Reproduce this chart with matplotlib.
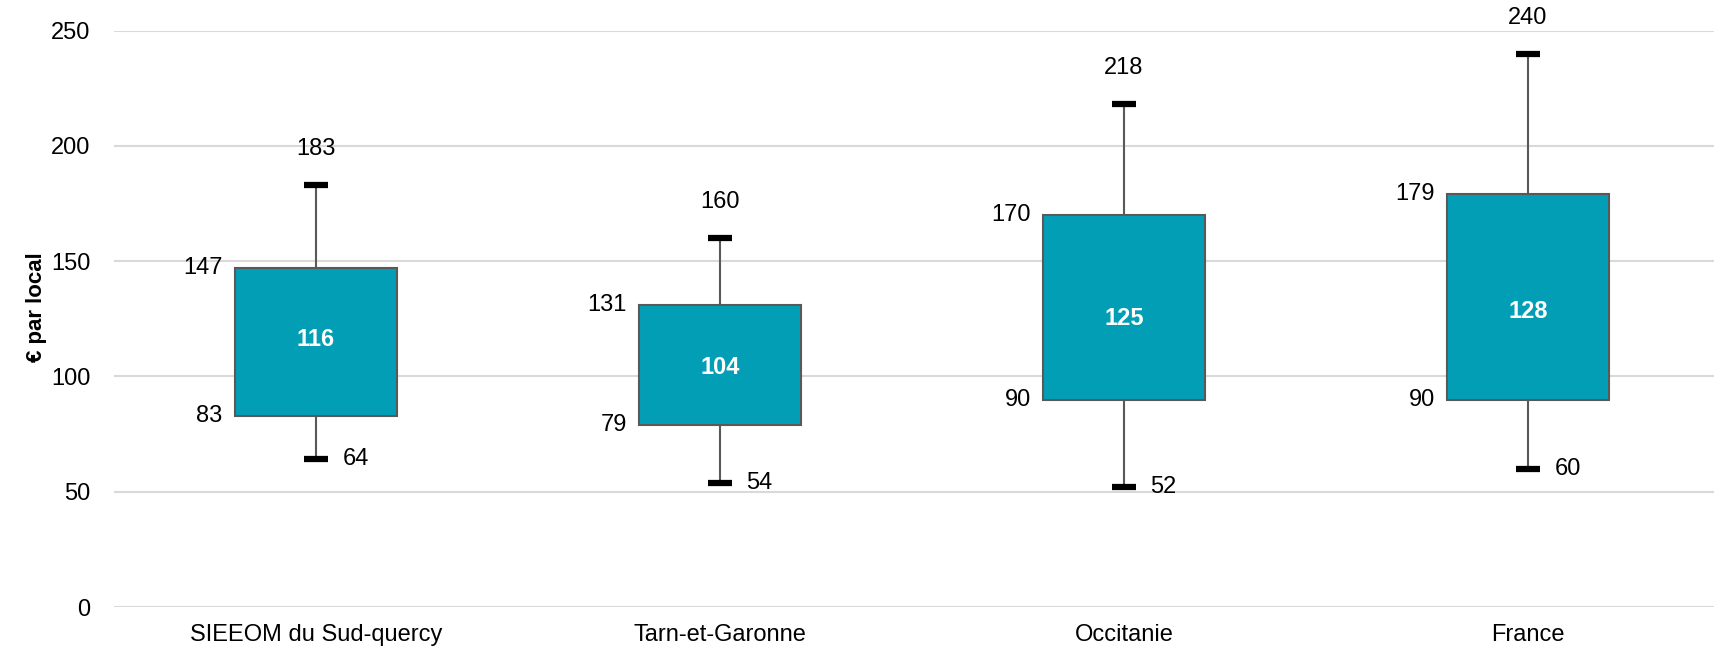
import matplotlib
matplotlib.use('Agg')
import matplotlib.pyplot as plt

plt.rcParams['font.family'] = ['Liberation Sans', 'DejaVu Sans']

# values (€ par local)
categories = ['SIEEOM du Sud-quercy', 'Tarn-et-Garonne', 'Occitanie', 'France']
mins = [64, 54, 52, 60]
q1s = [83, 79, 90, 90]
medians = [116, 104, 125, 128]
q3s = [147, 131, 170, 179]
maxs = [183, 160, 218, 240]
yticks = [0, 50, 100, 150, 200, 250]

box_color = '#029EB5'
edge_color = '#595959'

stats = []
for name, lo, a, m, b, hi in zip(categories, mins, q1s, medians, q3s, maxs):
    stats.append({'label': name, 'whislo': lo, 'q1': a, 'med': m,
                  'q3': b, 'whishi': hi, 'fliers': []})

fig = plt.figure(figsize=(17.15, 6.5), dpi=100)
ax = fig.add_axes([114 / 1715, 1 - 607 / 650, 1 - 114 / 1715, (607 - 30.7) / 650])

positions = list(range(len(categories)))
ax.bxp(stats, positions=positions, widths=0.4, patch_artist=True,
       showfliers=False, capwidths=0.06,
       boxprops=dict(facecolor=box_color, edgecolor=edge_color, linewidth=1.5),
       whiskerprops=dict(color=edge_color, linewidth=1.5),
       capprops=dict(color='black', linewidth=4.5, solid_capstyle='butt'),
       medianprops=dict(linewidth=0), zorder=3)

# labels
for i in positions:
    ax.annotate(str(maxs[i]), (i, maxs[i]), xytext=(0, 26), textcoords='offset points',
                ha='center', va='center', fontsize=17)
    ax.annotate(str(mins[i]), (i, mins[i]), xytext=(19, 0), textcoords='offset points',
                ha='left', va='center', fontsize=17)
    ax.annotate(str(q3s[i]), (i - 0.2, q3s[i]), xytext=(-9, 0), textcoords='offset points',
                ha='right', va='center', fontsize=17)
    ax.annotate(str(q1s[i]), (i - 0.2, q1s[i]), xytext=(-9, 0), textcoords='offset points',
                ha='right', va='center', fontsize=17)
    ax.text(i, medians[i], str(medians[i]), ha='center', va='center',
            fontsize=17, fontweight='bold', color='white', zorder=4)

ax.set_xlim(-0.5, 3.463)
ax.set_ylim(0, 250)
ax.set_yticks(yticks)
ax.set_xticks(positions)
ax.set_xticklabels(categories)
ax.tick_params(axis='x', length=0, pad=12, labelsize=17)
ax.tick_params(axis='y', length=0, pad=17, labelsize=17)
ax.yaxis.grid(True, color='#D9D9D9', linewidth=1.5)
ax.set_axisbelow(True)
for s in ax.spines.values():
    s.set_visible(False)

ax.set_ylabel('€ par local', fontsize=16, fontweight='bold')
ax.yaxis.set_label_coords(-0.042, 0.52)

fig.savefig('out.png', dpi=100)
